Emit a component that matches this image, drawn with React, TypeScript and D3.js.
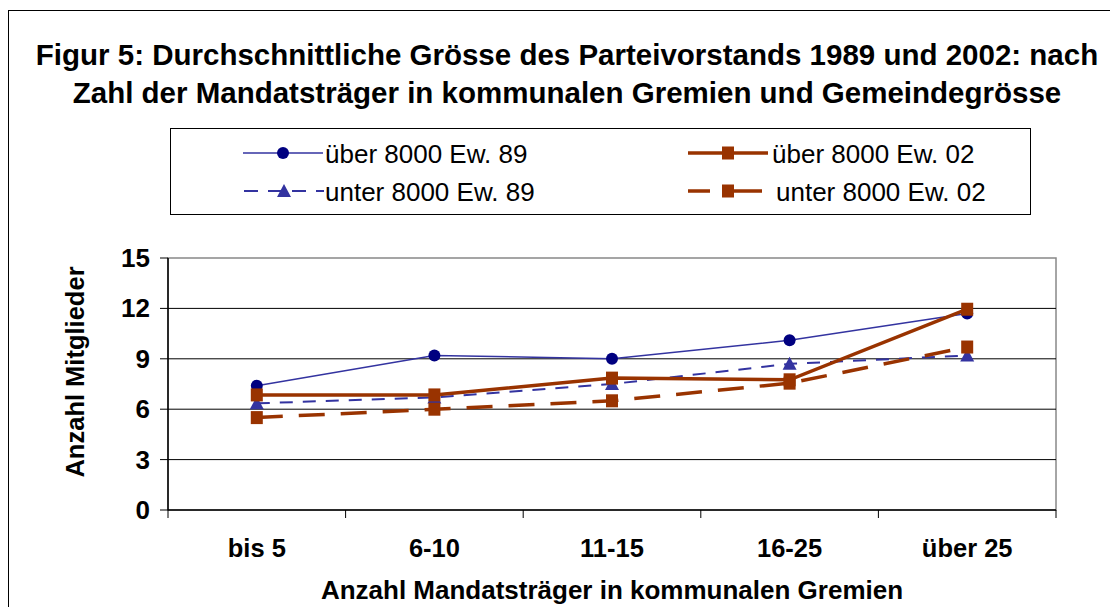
import React from "react";
import * as d3 from "d3";

const categories = ["bis 5", "6-10", "11-15", "16-25", "über 25"];
const ueber89 = [7.4, 9.2, 9.0, 10.1, 11.7];
const ueber02 = [6.85, 6.85, 7.85, 7.75, 11.95];
const unter89 = [6.35, 6.7, 7.5, 8.7, 9.2];
const unter02 = [5.5, 6.0, 6.5, 7.55, 9.7];
const yTicks = [0, 3, 6, 9, 12, 15];
const titleLines = [
  "Figur 5: Durchschnittliche Grösse des Parteivorstands 1989 und 2002: nach",
  "Zahl der Mandatsträger in kommunalen Gremien und Gemeindegrösse",
];

const BLUE_DARK = "#000080";
const BLUE = "#3333a0";
const BROWN = "#993300";
const FONT = "'Liberation Sans', Arial, sans-serif";

type Series = {
  name: string;
  values: number[];
  color: string;
  markerColor: string;
  width: number;
  dash?: string;
  marker: "circle" | "square" | "triangle";
};

const series: Series[] = [
  { name: "über 8000 Ew. 89", values: ueber89, color: BLUE, markerColor: BLUE_DARK, width: 1.5, marker: "circle" },
  { name: "unter 8000 Ew. 89", values: unter89, color: BLUE, markerColor: BLUE, width: 2, dash: "13,10", marker: "triangle" },
  { name: "über 8000 Ew. 02", values: ueber02, color: BROWN, markerColor: BROWN, width: 3.5, marker: "square" },
  { name: "unter 8000 Ew. 02", values: unter02, color: BROWN, markerColor: BROWN, width: 3.5, dash: "26,16", marker: "square" },
];

function Marker({ s, x, y }: { s: Series; x: number; y: number }) {
  if (s.marker === "circle") return <circle cx={x} cy={y} r={6} fill={s.markerColor} />;
  if (s.marker === "square") return <rect x={x - 6} y={y - 6.5} width={12} height={13} fill={s.markerColor} />;
  return <path d={`M${x},${y - 7}L${x + 7},${y + 6}L${x - 7},${y + 6}Z`} fill={s.markerColor} />;
}

export default function App() {
  const W = 1110, H = 607;
  const left = 168, right = 1056, top = 258, bottom = 510;
  const x = d3.scaleBand<string>().domain(categories).range([left, right]);
  const y = d3.scaleLinear().domain([0, 15]).range([bottom, top]);
  const cx = (c: string) => (x(c) ?? 0) + x.bandwidth() / 2;
  const line = d3.line<number>().x((_, i) => cx(categories[i])).y((v) => y(v));
  const drawOrder = [series[0], series[1], series[3], series[2]];
  const legendPos = [
    { s: series[0], lx: 243, ly: 153, tx: 325, lw: 80, ld: undefined as string | undefined },
    { s: series[2], lx: 688, ly: 153, tx: 772, lw: 80, ld: undefined as string | undefined },
    { s: series[1], lx: 244, ly: 191, tx: 325, lw: 80, ld: "14,10" },
    { s: series[3], lx: 688, ly: 191, tx: 776, lw: 74, ld: "22,12,40" },
  ];
  const boundaries = [...categories.map((c) => x(c) ?? 0), right];

  return (
    <svg width={W} height={H} style={{ position: "absolute", left: 0, top: 0 }} fontFamily={FONT}>
      <rect x={0} y={0} width={W} height={H} fill="white" />
      <rect x={8.5} y={10.5} width={W + 10} height={H + 10} fill="none" stroke="black" strokeWidth={1} />
      {titleLines.map((t, i) => (
        <text key={i} x={567} y={65 + i * 38} textAnchor="middle" fontSize={29.5} fontWeight="bold">
          {t}
        </text>
      ))}
      <rect x={170.5} y={128.5} width={860} height={86} fill="white" stroke="black" strokeWidth={1} />
      {legendPos.map(({ s, lx, ly, tx, lw, ld }, i) => (
        <g key={i}>
          <line x1={lx} x2={lx + lw} y1={ly} y2={ly} stroke={s.color} strokeWidth={s.width} strokeDasharray={ld} />
          <Marker s={s} x={lx + 40} y={ly} />
          <text x={tx} y={ly + 9.5} fontSize={26}>{s.name}</text>
        </g>
      ))}
      <rect x={left} y={top} width={right - left} height={bottom - top} fill="none" stroke="#888" strokeWidth={1.5} />
      {yTicks.map((t) => (
        <g key={t}>
          {t > 0 && t < 15 && <line x1={left} x2={right} y1={y(t)} y2={y(t)} stroke="black" strokeWidth={1} />}
          <line x1={left - 8} x2={left} y1={y(t)} y2={y(t)} stroke="black" strokeWidth={1} />
          <text x={150} y={y(t) + 9} textAnchor="end" fontSize={26} fontWeight="bold">{t}</text>
        </g>
      ))}
      <line x1={left} x2={left} y1={top} y2={bottom} stroke="black" strokeWidth={1.5} />
      <line x1={left} x2={right} y1={bottom} y2={bottom} stroke="black" strokeWidth={1.5} />
      {boundaries.map((b, i) => (
        <line key={i} x1={b} x2={b} y1={bottom} y2={bottom + 8} stroke="black" strokeWidth={1} />
      ))}
      {categories.map((c) => (
        <text key={c} x={cx(c)} y={557} textAnchor="middle" fontSize={25.5} fontWeight="bold">{c}</text>
      ))}
      <text x={612} y={599} textAnchor="middle" fontSize={26} fontWeight="bold">
        Anzahl Mandatsträger in kommunalen Gremien
      </text>
      <text transform="translate(84,372) rotate(-90)" textAnchor="middle" fontSize={25.5} fontWeight="bold">
        Anzahl Mitglieder
      </text>
      {drawOrder.map((s) => (
        <g key={s.name}>
          <path d={line(s.values) ?? ""} fill="none" stroke={s.color} strokeWidth={s.width} strokeDasharray={s.dash} />
          {s.values.map((v, i) => (
            <Marker key={i} s={s} x={cx(categories[i])} y={y(v)} />
          ))}
        </g>
      ))}
    </svg>
  );
}
